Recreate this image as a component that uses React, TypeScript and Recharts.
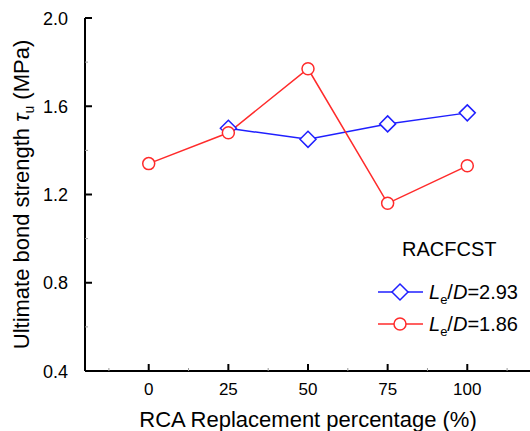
import { LineChart, Line, XAxis, YAxis, Legend } from "recharts";

const RCA_PERCENT = [0, 25, 50, 75, 100];
const TAU_LD_293 = [null, 1.5, 1.45, 1.52, 1.57];
const TAU_LD_186 = [1.34, 1.48, 1.77, 1.16, 1.33];
const LD_RATIOS = ["2.93", "1.86"];

const X_MAJOR = [0, 25, 50, 75, 100];
const X_MINOR = [-12.5, 12.5, 37.5, 62.5, 87.5, 112.5];
const Y_MAJOR = [0.4, 0.8, 1.2, 1.6, 2.0];
const Y_MINOR = [0.6, 1.0, 1.4, 1.8];

const BLUE = "#1f1fff";
const RED = "#ff2b2b";
const FONT = '"Liberation Sans", Arial, Helvetica, sans-serif';

const data = RCA_PERCENT.map((x, i) => ({
  x,
  ld293: TAU_LD_293[i],
  ld186: TAU_LD_186[i],
}));

// order of the legend rows, top to bottom
const LEGEND_ROWS = [
  { key: "ld293", ratio: LD_RATIOS[0], color: BLUE, shape: "diamond" },
  { key: "ld186", ratio: LD_RATIOS[1], color: RED, shape: "circle" },
];

const xTicks = [...X_MAJOR, ...X_MINOR].sort((a, b) => a - b);
const yTicks = [...Y_MAJOR, ...Y_MINOR].sort((a, b) => a - b);

const isMajor = (list: number[], v: number) =>
  list.some((m) => Math.abs(m - v) < 1e-9);

const XTick = ({ x, y, payload }: any) => {
  const major = isMajor(X_MAJOR, payload.value);
  return (
    <g>
      <line
        x1={x}
        x2={x}
        y1={y}
        y2={y - (major ? 7 : 3)}
        stroke={major ? "#000" : "#999"}
        strokeWidth={major ? 2 : 1}
      />
      {major && (
        <text x={x} y={y + 24} textAnchor="middle" fontSize={17} fontFamily={FONT} fill="#000">
          {payload.value}
        </text>
      )}
    </g>
  );
};

const YTick = ({ x, y, payload }: any) => {
  const major = isMajor(Y_MAJOR, payload.value);
  return (
    <g>
      <line
        x1={x}
        x2={x + (major ? 7 : 3)}
        y1={y}
        y2={y}
        stroke={major ? "#000" : "#999"}
        strokeWidth={major ? 2 : 1}
      />
      {major && (
        <text x={x - 17} y={y} dy={6.5} textAnchor="end" fontSize={18} fontFamily={FONT} fill="#000">
          {payload.value.toFixed(1)}
        </text>
      )}
    </g>
  );
};

const YTitle = ({ viewBox }: any) => {
  const bx = viewBox.x + 29;
  const cy = viewBox.y + viewBox.height / 2;
  return (
    <text
      x={bx}
      y={cy}
      transform={`rotate(-90, ${bx}, ${cy})`}
      textAnchor="middle"
      fontSize={22}
      fontFamily={FONT}
      fill="#000"
    >
      Ultimate bond strength{" "}
      <tspan fontStyle="italic">τ</tspan>
      <tspan fontSize={14} dy={5}>u</tspan>
      <tspan dy={-5}> (MPa)</tspan>
    </text>
  );
};

const XTitle = ({ viewBox }: any) => (
  <text
    x={viewBox.x + viewBox.width / 2}
    y={viewBox.y + 56}
    textAnchor="middle"
    fontSize={22}
    fontFamily={FONT}
    fill="#000"
  >
    RCA Replacement percentage (%)
  </text>
);

const Diamond = ({ cx, cy }: any) => {
  if (cx == null || cy == null) return <g />;
  const d = 8;
  return (
    <polygon
      points={`${cx},${cy - d} ${cx + d},${cy} ${cx},${cy + d} ${cx - d},${cy}`}
      fill="#fff"
      stroke={BLUE}
      strokeWidth={1.5}
    />
  );
};

const LegendBox = () => (
  <svg width={160} height={110} style={{ display: "block" }}>
    <text x={32} y={26} fontSize={20} fontFamily={FONT} fill="#000">
      RACFCST
    </text>
    {LEGEND_ROWS.map((row, i) => {
      const cy = 62 + i * 32;
      return (
        <g key={row.key}>
          <line x1={8} x2={53} y1={cy} y2={cy} stroke={row.color} strokeWidth={1.5} />
          {row.shape === "diamond" ? (
            <polygon
              points={`30,${cy - 8} 38,${cy} 30,${cy + 8} 22,${cy}`}
              fill="#fff"
              stroke={row.color}
              strokeWidth={1.5}
            />
          ) : (
            <circle cx={30} cy={cy} r={6} fill="#fff" stroke={row.color} strokeWidth={1.5} />
          )}
          <text x={59} y={cy + 7} fontSize={20} fontFamily={FONT} fill="#000">
            <tspan fontStyle="italic">L</tspan>
            <tspan fontSize={13} dy={5}>e</tspan>
            <tspan dy={-5}>/</tspan>
            <tspan fontStyle="italic">D</tspan>
            <tspan>={row.ratio}</tspan>
          </text>
        </g>
      );
    })}
  </svg>
);

const App = () => (
  <div
    style={{
      position: "absolute",
      left: 0,
      top: 0,
      width: 530,
      height: 431,
      overflow: "hidden",
      background: "#fff",
    }}
  >
    <LineChart
      width={560}
      height={431}
      data={data}
      margin={{ top: 18, right: 29, bottom: 0, left: 0 }}
    >
      <XAxis
        dataKey="x"
        type="number"
        domain={[-20, 120]}
        ticks={xTicks}
        interval={0}
        height={60}
        tickSize={0}
        tickMargin={0}
        tickLine={false}
        tick={<XTick />}
        axisLine={{ stroke: "#000", strokeWidth: 2 }}
        label={<XTitle />}
      />
      <XAxis
        xAxisId="top"
        orientation="top"
        type="number"
        domain={[-20, 120]}
        height={0}
        tick={false}
        tickLine={false}
        axisLine={{ stroke: "#000", strokeWidth: 2 }}
      />
      <YAxis
        type="number"
        domain={[0.4, 2.0]}
        ticks={yTicks}
        interval={0}
        width={85}
        tickSize={0}
        tickMargin={0}
        tickLine={false}
        tick={<YTick />}
        axisLine={{ stroke: "#000", strokeWidth: 2 }}
        label={<YTitle />}
      />
      <Legend
        layout="vertical"
        verticalAlign="middle"
        align="center"
        content={<LegendBox />}
        wrapperStyle={{ position: "absolute", left: 370, top: 230, width: 160, height: 110 }}
      />
      <Line
        name="Le/D=2.93"
        dataKey="ld293"
        type="linear"
        stroke={BLUE}
        strokeWidth={1.5}
        dot={<Diamond />}
        isAnimationActive={false}
      />
      <Line
        name="Le/D=1.86"
        dataKey="ld186"
        type="linear"
        stroke={RED}
        strokeWidth={1.5}
        dot={{ r: 6, fill: "#fff", stroke: RED, strokeWidth: 1.5 }}
        isAnimationActive={false}
      />
    </LineChart>
  </div>
);

export default App;
